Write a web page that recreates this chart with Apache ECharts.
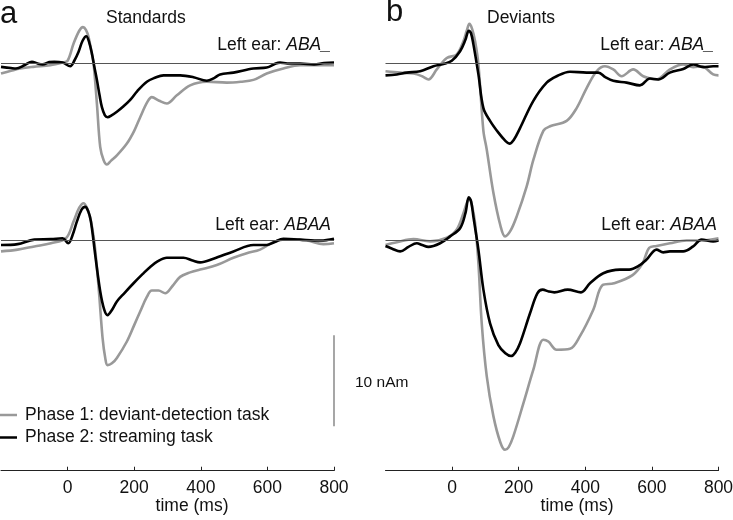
<!DOCTYPE html>
<html>
<head>
<meta charset="utf-8">
<script src="https://cdn.jsdelivr.net/npm/echarts@6/dist/echarts.min.js"></script>
<style>
html,body{margin:0;padding:0;background:#fff;}
#chart{width:733px;height:520px;}
</style>
</head>
<body>
<div id="chart"></div>
<script>
// ---------- data (time in ms, dipole moment in nAm) ----------
const xTicks = [0, 200, 400, 600, 800];
const phaseNames = ['Phase 1: deviant-detection task', 'Phase 2: streaming task'];

// Standards, Left ear ABA_
const stdABA_p1 = [[-200,-1.1],[-170,-0.8],[-142,-0.55],[-103,-0.37],[-52,-0.2],[-15,0.1],[0,0.3],[18,2.2],[35,3.6],[46,4.0],[55,3.7],[63,2.9],[72,1.2],[78,0],[88,-4.4],[98,-9.2],[108,-10.6],[118,-11.1],[130,-10.7],[148,-10.1],[178,-8.8],[200,-7.4],[218,-5.9],[240,-4.2],[253,-3.7],[275,-4.1],[298,-4.4],[328,-3.5],[368,-2.4],[418,-2.0],[478,-2.1],[520,-2.0],[558,-1.8],[598,-1.1],[648,-0.55],[698,-0.2],[750,-0.2],[800,-0.2]];
const stdABA_p2 = [[-200,-0.37],[-170,-0.5],[-155,-0.55],[-130,-0.2],[-107,0.2],[-90,0.0],[-75,-0.1],[-55,0.15],[-40,0.2],[-15,0.1],[8,-0.3],[20,0.3],[33,1.3],[45,2.5],[56,3.0],[65,2.3],[73,1.1],[80,-0.3],[88,-1.8],[96,-3.5],[103,-4.8],[112,-5.7],[120,-5.9],[132,-5.7],[148,-5.3],[168,-4.7],[188,-4.0],[210,-3.0],[238,-2.0],[260,-1.6],[288,-1.3],[338,-1.3],[378,-1.5],[418,-1.9],[440,-1.6],[458,-1.2],[498,-1.0],[558,-0.55],[598,-0.45],[625,0.0],[638,0.1],[660,0.0],[698,0.0],[740,-0.1],[770,0.05],[800,0.1]];

// Standards, Left ear ABAA
const stdABAA_p1 = [[-200,-1.2],[-150,-1.0],[-100,-0.65],[-50,-0.3],[-5,0.25],[18,2.1],[35,3.6],[48,4.1],[58,3.6],[68,2.5],[80,-0.1],[88,-3.0],[95,-6.0],[105,-10.7],[113,-12.9],[120,-13.7],[133,-13.5],[148,-12.9],[178,-11.1],[200,-9.3],[218,-7.8],[238,-6.2],[253,-5.5],[273,-5.5],[293,-5.8],[315,-5.0],[338,-4.0],[368,-3.5],[398,-3.2],[448,-2.7],[498,-1.9],[538,-1.4],[578,-1.0],[618,-0.2],[658,0.15],[718,0.0],[768,-0.4],[800,-0.3]];
const stdABAA_p2 = [[-200,-0.5],[-150,-0.4],[-100,0.1],[-50,0.15],[-15,0.25],[2,-0.3],[15,0.6],[28,2.1],[42,3.4],[53,3.7],[62,3.2],[70,2.1],[83,-1.6],[98,-5.6],[110,-7.6],[120,-8.2],[132,-7.7],[148,-6.7],[170,-5.8],[198,-4.7],[225,-3.7],[248,-2.9],[270,-2.3],[298,-1.9],[348,-1.9],[375,-2.2],[398,-2.4],[438,-2.0],[498,-1.2],[558,-0.5],[598,-0.5],[620,-0.2],[648,0.2],[698,0.1],[760,0.0],[800,0.2]];

// Deviants, Left ear ABA_
const devABA_p1 = [[-200,-0.85],[-156,-1.0],[-116,-1.1],[-90,-1.4],[-71,-1.75],[-46,-0.65],[-16,0.6],[14,1.0],[34,2.45],[44,3.6],[52,4.35],[60,3.8],[69,2.45],[79,-0.1],[94,-7.4],[104,-9.45],[124,-14.2],[145,-17.8],[159,-19.0],[175,-18.4],[194,-16.8],[224,-13.5],[244,-10.6],[274,-7.4],[294,-6.9],[344,-6.3],[374,-4.9],[404,-2.7],[434,-0.85],[459,-0.3],[484,-0.65],[509,-1.4],[544,-0.65],[574,-1.4],[614,-1.75],[654,-0.65],[694,-0.1],[724,-0.4],[749,-0.3],[784,-1.2],[800,-1.3]];
const devABA_p2 = [[-200,-1.3],[-166,-1.2],[-136,-1.0],[-96,-0.85],[-56,-0.3],[-26,-0.05],[-1,0.3],[24,1.35],[40,2.6],[50,3.6],[57,3.3],[64,2.1],[79,-1.2],[94,-4.9],[114,-6.3],[139,-7.6],[160,-8.5],[172,-8.8],[185,-8.4],[204,-7.1],[244,-4.1],[284,-2.1],[314,-1.4],[354,-0.9],[404,-1.0],[439,-1.0],[460,-1.5],[484,-1.9],[524,-2.1],[564,-2.4],[594,-1.65],[619,-1.75],[654,-1.0],[694,-0.6],[724,-0.1],[754,-0.4],[784,-0.3],[800,-0.3]];

// Deviants, Left ear ABAA
const devABAA_p1 = [[-200,-0.5],[-166,-0.2],[-116,0.15],[-66,-0.1],[-16,0.3],[14,1.2],[34,3.0],[44,4.1],[52,4.65],[60,3.8],[69,1.9],[79,-2.5],[89,-9.1],[104,-14.9],[124,-19.3],[145,-22.2],[159,-23.0],[170,-22.7],[184,-21.5],[214,-17.9],[244,-14.2],[274,-10.9],[289,-11.1],[314,-12.0],[354,-11.9],[384,-10.5],[424,-7.6],[452,-4.9],[486,-4.7],[542,-3.8],[572,-2.5],[592,-0.8],[614,-0.6],[654,-0.3],[704,0.0],[744,0.0],[800,0.25]];
const devABAA_p2 = [[-200,-0.6],[-180,-0.9],[-156,-1.2],[-131,-0.7],[-106,-0.3],[-90,-0.5],[-71,-0.7],[-36,-0.3],[-6,0.45],[24,1.35],[40,3.0],[50,4.75],[57,4.3],[64,2.6],[79,-1.0],[94,-5.4],[114,-9.1],[139,-11.5],[160,-12.4],[177,-12.7],[190,-12.3],[204,-11.3],[234,-8.0],[256,-5.8],[272,-5.4],[290,-5.6],[307,-5.7],[347,-5.4],[387,-5.7],[414,-4.7],[454,-3.6],[504,-3.2],[532,-3.2],[560,-2.8],[584,-2.1],[614,-1.0],[634,-1.3],[654,-1.2],[694,-1.2],[724,-0.65],[749,0.1],[784,-0.1],[800,0.0]];

// scale bar: 10 nAm
const scaleBar = [[800,-10.4],[800,-20.4]];

// ---------- chart ----------
const FONT = '"Liberation Sans", Arial, Helvetica, sans-serif';
const GRAY = '#999999';
const BLACK = '#000000';
const PX = 9.1; // px per nAm
const panelLeft = [1, 385.5];
const panelW = 333;
const topBase = 63.5, botBase = 240.5;
const topMax = 5, topMin = -20, botMax = 5, botMin = -25.3;

const grids = [], xAxes = [], yAxes = [];
[0,1].forEach(p => {
  grids.push({left: panelLeft[p], width: panelW, top: topBase - topMax*PX, height: (topMax-topMin)*PX, outerBoundsMode:'none', containLabel:false});
  grids.push({left: panelLeft[p], width: panelW, top: botBase - botMax*PX, height: (botMax-botMin)*PX, outerBoundsMode:'none', containLabel:false});
});
grids.forEach((g, i) => {
  const isBottom = (i % 2 === 1);
  xAxes.push({
    type:'value', gridIndex:i, min:-200, max:800, interval:200,
    show: isBottom,
    splitLine:{show:false},
    axisLine:{show:true, onZero:false, lineStyle:{color:'#222', width:1}},
    axisTick:{show:true, inside:true, length:4, customValues: xTicks, lineStyle:{color:'#222'}},
    axisLabel:{show:true, customValues: xTicks, margin:8, fontSize:17.5, color:'#111', fontFamily:FONT}
  });
  yAxes.push({type:'value', gridIndex:i, show:false, min: isBottom ? botMin : topMin, max: isBottom ? botMax : topMax});
});

const sets = [stdABA_p1, stdABA_p2, stdABAA_p1, stdABAA_p2, devABA_p1, devABA_p2, devABAA_p1, devABAA_p2];
const series = [];
for (let g = 0; g < 4; g++) {
  series.push({
    name: phaseNames[0], type:'line', xAxisIndex:g, yAxisIndex:g, data: sets[g*2],
    smooth:0.35, showSymbol:false, symbol:'none', z:2,
    lineStyle:{color:GRAY, width:2.6}, itemStyle:{color:GRAY},
    markLine:{silent:true, symbol:'none', label:{show:false}, animation:false,
      lineStyle:{color:'#555', width:1, type:'solid'}, emphasis:{disabled:true}, data:[{yAxis:0}]}
  });
  series.push({
    name: phaseNames[1], type:'line', xAxisIndex:g, yAxisIndex:g, data: sets[g*2+1],
    smooth:0.35, showSymbol:false, symbol:'none', z:3,
    lineStyle:{color:BLACK, width:2.6}, itemStyle:{color:BLACK}
  });
}
series.push({
  name:'scale', type:'line', xAxisIndex:1, yAxisIndex:1, data: scaleBar, clip:false,
  showSymbol:false, symbol:'none', lineStyle:{color:'#777', width:1.3}, z:1
});

function txt(x, y, text, size, align, extra) {
  return Object.assign({type:'text', x:x, y:y, silent:true,
    style:Object.assign({text:text, fontSize:size, fontFamily:FONT, fill:'#111', align:align||'left', verticalAlign:'middle'}, extra||{})});
}
const earRich = {i:{fontStyle:'italic', fontSize:17.5, fontFamily:FONT, fill:'#111'}};

const option = {
  animation:false,
  backgroundColor:'#fff',
  grid: grids, xAxis: xAxes, yAxis: yAxes, series: series,
  legend:{
    data: phaseNames, orient:'vertical', left:0, top:406, padding:0,
    itemWidth:17, itemHeight:2.5, itemGap:4.5, icon:'rect', selectedMode:false,
    textStyle:{fontSize:17.5, fontFamily:FONT, color:'#111', padding:[0,0,0,3]}
  },
  graphic: [
    txt(0, 14, 'a', 31, 'left'),
    txt(386, 12, 'b', 31, 'left'),
    txt(106, 18, 'Standards', 17.5, 'left'),
    txt(487, 18, 'Deviants', 17.5, 'left'),
    txt(331, 45, 'Left ear: {i|ABA_}', 17.5, 'right', {rich:earRich}),
    txt(331, 225, 'Left ear: {i|ABAA}', 17.5, 'right', {rich:earRich}),
    txt(714, 45, 'Left ear: {i|ABA_}', 17.5, 'right', {rich:earRich}),
    txt(717, 225, 'Left ear: {i|ABAA}', 17.5, 'right', {rich:earRich}),
    txt(355, 383, '10 nAm', 15.5, 'left'),
    txt(192, 506, 'time (ms)', 17.5, 'center'),
    txt(577, 506, 'time (ms)', 17.5, 'center')
  ]
};
const chart = echarts.init(document.getElementById('chart'), null, {renderer:'canvas', width:733, height:520});
chart.setOption(option);
</script>
</body>
</html>
